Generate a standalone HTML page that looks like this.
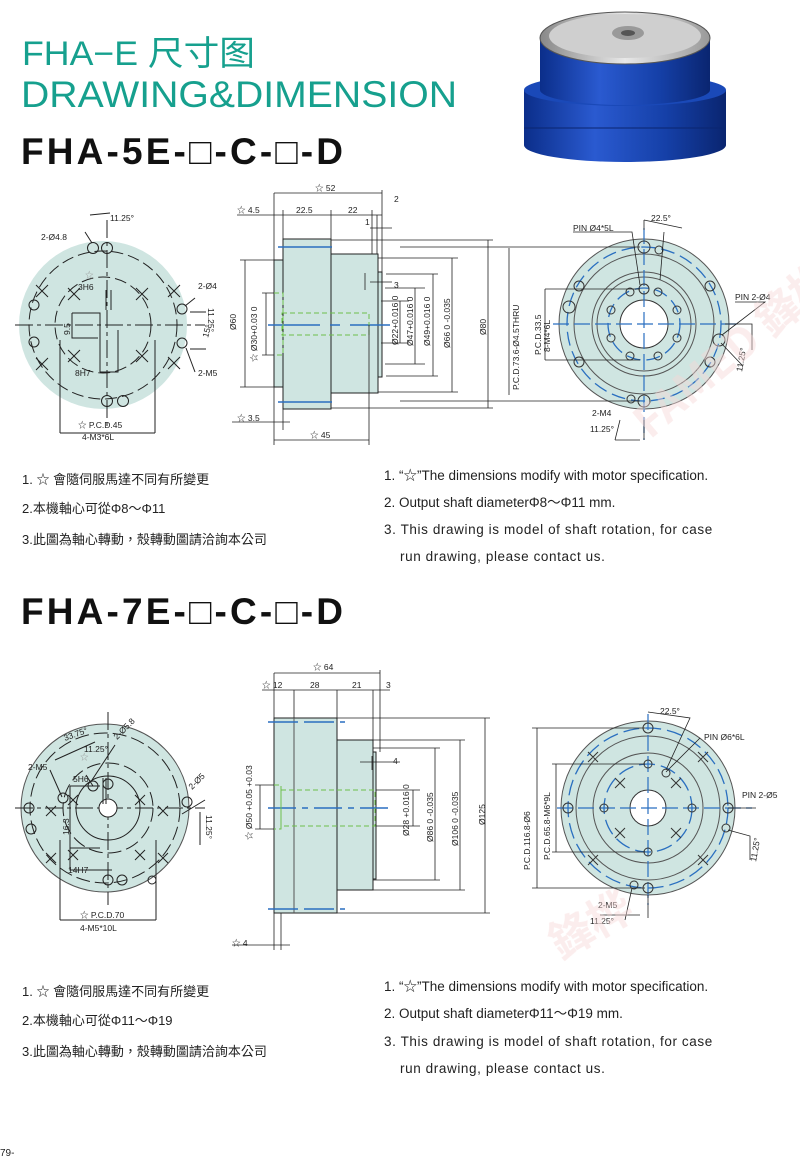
<!DOCTYPE html>
<html><head><meta charset="utf-8"><style>
html,body{margin:0;padding:0;background:#fff;}
svg{display:block;}
.t{font-family:"Liberation Sans","Noto Sans CJK TC",sans-serif;}
</style></head><body>
<svg width="800" height="1168" viewBox="0 0 800 1168" xmlns="http://www.w3.org/2000/svg" class="t">
<!-- titles -->
<text x="22" y="65" font-size="34" fill="#16a08e" textLength="233" lengthAdjust="spacingAndGlyphs" font-family="Liberation Sans,Noto Sans CJK SC,sans-serif">FHA−E 尺寸图</text>
<text x="21" y="107" font-size="37" fill="#16a08e" textLength="436" lengthAdjust="spacingAndGlyphs">DRAWING&amp;DIMENSION</text>
<text x="21" y="164" font-size="37" font-weight="bold" fill="#111" textLength="322" lengthAdjust="spacing">FHA-5E-□-C-□-D</text>
<text x="21" y="624" font-size="37" font-weight="bold" fill="#111" textLength="322" lengthAdjust="spacing">FHA-7E-□-C-□-D</text>

<!-- motor photo -->
<defs>
<linearGradient id="bl" x1="0" x2="1"><stop offset="0" stop-color="#0b2e8a"/><stop offset="0.35" stop-color="#2a5ad0"/><stop offset="0.7" stop-color="#1540a8"/><stop offset="1" stop-color="#0a2570"/></linearGradient>
<linearGradient id="gr" x1="0" x2="1"><stop offset="0" stop-color="#888"/><stop offset="0.5" stop-color="#e8e8e8"/><stop offset="1" stop-color="#999"/></linearGradient>
</defs>
<path d="M524 90 L524 145 A101 17 0 0 0 726 145 L726 90 Z" fill="url(#bl)"/>
<ellipse cx="625" cy="90" rx="101" ry="16" fill="#1a49b8"/>
<path d="M540 38 L540 90 A85 15 0 0 0 710 90 L710 38 Z" fill="url(#bl)"/>
<line x1="524" y1="128" x2="726" y2="128" stroke="#0a2570" stroke-width="1"/>
<ellipse cx="625" cy="38" rx="85" ry="26" fill="url(#gr)" stroke="#555"/>
<ellipse cx="625" cy="36" rx="76" ry="22" fill="#cfcfcf"/>
<ellipse cx="628" cy="33" rx="16" ry="7" fill="#999"/>
<ellipse cx="628" cy="33" rx="7" ry="3" fill="#555"/>

<g stroke="#222" stroke-width="1" fill="none">
<!-- ===== Section 1 left view ===== -->
<circle cx="103" cy="325" r="84" fill="#cfe5e1" stroke="none"/>
<circle cx="103" cy="325" r="74" stroke-dasharray="12 5"/>
<circle cx="103" cy="325" r="48" stroke-dasharray="12 5"/>
<line x1="15" y1="325" x2="205" y2="325" stroke-dasharray="18 4 4 4"/>
<line x1="107" y1="220" x2="107" y2="430" stroke-dasharray="18 4 4 4"/>
<circle cx="93" cy="248" r="5.5"/><circle cx="107" cy="248" r="5.5"/>
<circle cx="107" cy="401" r="5.5"/><circle cx="123" cy="401" r="5.5"/>
<circle cx="34" cy="305" r="5"/><circle cx="34" cy="342" r="5"/>
<circle cx="182" cy="309" r="5"/><circle cx="182" cy="343" r="5"/>
<path d="M36 285 l12 12 m0 -12 l-12 12 M36 358 l12 12 m0 -12 l-12 12 M168 285 l12 12 m0 -12 l-12 12 M168 357 l12 12 m0 -12 l-12 12 M68 288 l12 12 m0 -12 l-12 12 M136 288 l12 12 m0 -12 l-12 12 M68 350 l12 12 m0 -12 l-12 12 M136 350 l12 12 m0 -12 l-12 12"/>
<path d="M72 313 H100 V372 M72 313 V338 H98 M106 290 V310 M111 290 V310 M100 372 H118 V330"/>
<path d="M60 433 H155 M60 340 V433 M155 340 V433"/>
<path d="M90 215 L110 213 M85 232 L92 243 M195 298 L185 306 M195 372 L186 348 M190 312 L206 312 M190 349 L206 349"/>
</g>
<g font-size="8.5" fill="#222">
<text x="110" y="221">11.25°</text><text x="41" y="240">2-Ø4.8</text>
<text x="198" y="289">2-Ø4</text><text x="198" y="376">2-M5</text>
<text x="78" y="290">3H6</text><text x="75" y="376">8H7</text>
<text x="78" y="428">☆ P.C.D.45</text><text x="82" y="440">4-M3*6L</text>
<text transform="translate(208,308) rotate(90)">11.25°</text>
<text transform="translate(208,338) rotate(-75)">15°</text>
<text transform="translate(70,335) rotate(-90)">9.5</text>
<text x="85" y="278" fill="#999">☆</text>
</g>

<!-- ===== Section 1 side view ===== -->
<g stroke="#222" stroke-width="1" fill="#cfe5e1">
<rect x="274" y="260" width="10" height="127"/>
<rect x="283" y="239" width="48" height="170"/>
<rect x="331" y="254" width="47" height="139"/>
<rect x="378" y="272" width="4" height="105"/>
</g>
<g stroke="#2a6fc0" stroke-width="1.5"><line x1="278" y1="247" x2="332" y2="247"/><line x1="278" y1="402" x2="332" y2="402"/>
<line x1="268" y1="325" x2="320" y2="325"/><line x1="330" y1="325" x2="340" y2="325"/><line x1="350" y1="325" x2="390" y2="325"/></g>
<g stroke="#6cc04a" stroke-width="1" fill="none" stroke-dasharray="5 3">
<path d="M274 293 H283 V355 H274"/><rect x="282" y="313" width="87" height="22"/></g>
<g stroke="#222" stroke-width="0.8" fill="none">
<path d="M274 193 H382 M274 193 V260 M382 190 V272 M237 215 H382 M283 210 V239 M331 210 V239 M377 215 V254 M370 228 H392 M372 210 V254 M370 282 H392 M365 273 V290"/>
<path d="M240 260 H274 M245 260 V387 M240 387 H274 M262 293 H274 M266 293 V355 M262 355 H274"/>
<path d="M381 301 H409 M381 343 H409 M400 301 V343 M385 288 H425 M385 364 H425 M415 288 V364 M386 274 H438 M386 376 H438 M433 274 V376 M378 258 H458 M378 392 H458 M452 258 V392 M331 240 H493 M331 408 H493 M488 240 V408"/>
<path d="M232 422 H290 M283 409 V430 M274 387 V445 M274 440 H369 M369 325 V445"/>
<path d="M509 248 V395"/>
</g>
<g font-size="8.5" fill="#222">
<text x="315" y="191">☆ 52</text><text x="237" y="213">☆ 4.5</text><text x="296" y="213">22.5</text><text x="348" y="213">22</text>
<text x="394" y="202">2</text><text x="365" y="225">1</text><text x="394" y="288">3</text>
<text x="237" y="421">☆ 3.5</text><text x="310" y="438">☆ 45</text>
<text transform="translate(236,330) rotate(-90)">Ø60</text>
<text transform="translate(257,362) rotate(-90)">☆ Ø30+0.03 0</text>
<text transform="translate(398,345) rotate(-90)">Ø22+0.016 0</text>
<text transform="translate(413,346) rotate(-90)">Ø47+0.016 0</text>
<text transform="translate(430,346) rotate(-90)">Ø49+0.016 0</text>
<text transform="translate(450,348) rotate(-90)">Ø66 0 -0.035</text>
<text transform="translate(486,335) rotate(-90)">Ø80</text>
<text transform="translate(519,390) rotate(-90)">P.C.D.73.6-Ø4.5THRU</text>
<text transform="translate(541,355) rotate(-90)">P.C.D.33.5</text>
<text transform="translate(550,352) rotate(-90)">8-M4*6L</text>
</g>

<!-- ===== Section 1 right view ===== -->
<g fill="none">
<circle cx="644" cy="324" r="85" fill="#cfe5e1" stroke="#555"/>
<circle cx="644" cy="324" r="70" stroke="#555"/>
<circle cx="644" cy="324" r="52" stroke="#555"/>
<circle cx="644" cy="324" r="47" stroke="#555"/>
<circle cx="644" cy="324" r="24" fill="#fff" stroke="#333"/>
<circle cx="644" cy="324" r="77" stroke="#2a6fc0" stroke-width="1.3" stroke-dasharray="14 6"/>
<circle cx="644" cy="324" r="36" stroke="#2a6fc0" stroke-width="1.3" stroke-dasharray="14 6"/>
<g stroke="#2a6fc0" stroke-width="1.2"><line x1="553" y1="324" x2="740" y2="324" stroke-dasharray="16 5"/><line x1="644" y1="228" x2="644" y2="440" stroke-dasharray="16 5"/></g>
<g stroke="#333"><circle cx="644" cy="247" r="6"/><circle cx="644" cy="401" r="6"/><circle cx="569" cy="307" r="6"/><circle cx="719" cy="340" r="6"/><circle cx="644" cy="289" r="5"/>
<circle cx="659" cy="250" r="4"/><circle cx="631" cy="399" r="4"/><circle cx="579" cy="286" r="5"/><circle cx="579" cy="362" r="5"/><circle cx="710" cy="286" r="5"/><circle cx="710" cy="362" r="5"/>
<circle cx="630" cy="292" r="4"/><circle cx="658" cy="292" r="4"/><circle cx="611" cy="310" r="4"/><circle cx="677" cy="310" r="4"/><circle cx="611" cy="338" r="4"/><circle cx="677" cy="338" r="4"/><circle cx="630" cy="356" r="4"/><circle cx="658" cy="356" r="4"/></g>
<path d="M400 247 H640 M400 401 H640 M545 289 H640 M545 360 H640 M545 289 V360 M644 220 V230 M644 420 V440 M620 420 L615 440 M615 440 H640 M664 232 L660 280 M644 220 L682 228 M573 232 H632 L640 285 M735 302 H765 L722 335 M725 324 H752 V350 M721 343 L742 365" stroke="#222" stroke-width="0.8"/>
</g>
<g font-size="8.5" fill="#222">
<text x="651" y="221">22.5°</text><text x="573" y="231">PIN Ø4*5L</text><text x="735" y="300">PIN 2-Ø4</text>
<text x="592" y="416">2-M4</text><text x="590" y="432">11.25°</text>
<text transform="translate(742,372) rotate(-80)">11.25°</text>
</g>

<!-- notes 1 -->
<g font-size="13" fill="#222" font-family="Liberation Sans,Noto Sans CJK TC,sans-serif">
<text x="22" y="484">1. ☆ 會隨伺服馬達不同有所變更</text>
<text x="22" y="513">2.本機軸心可從Φ8～Φ11</text>
<text x="22" y="544">3.此圖為軸心轉動，殼轉動圖請洽詢本公司</text>
<text x="384" y="480" font-size="13.5">1. “☆”The dimensions modify with motor specification.</text>
<text x="384" y="507" font-size="13.5">2. Output shaft diameterΦ8～Φ11 mm.</text>
<text x="384" y="534" font-size="13.5" letter-spacing="0.6">3. This drawing is model of shaft rotation, for case</text>
<text x="400" y="561" font-size="13.5" letter-spacing="0.6">run drawing, please contact us.</text>
</g>

<!-- ===== Section 2 left view ===== -->
<g stroke="#222" stroke-width="1" fill="none">
<circle cx="105" cy="808" r="84" fill="#cfe5e1" stroke="#555"/>
<circle cx="105" cy="808" r="75" stroke-dasharray="14 5"/>
<circle cx="108" cy="808" r="45" stroke-dasharray="14 5"/>
<circle cx="108" cy="808" r="32"/>
<line x1="15" y1="808" x2="205" y2="808" stroke-dasharray="18 4 4 4"/>
<line x1="108" y1="712" x2="108" y2="905" stroke-dasharray="18 4 4 4"/>
<circle cx="108" cy="808" r="9" fill="#fff"/>
<circle cx="93" cy="786" r="5"/><circle cx="108" cy="784" r="5"/><circle cx="63" cy="798" r="5"/><circle cx="187" cy="802" r="5"/><circle cx="29" cy="808" r="5"/><circle cx="31" cy="829" r="5"/><circle cx="108" cy="880" r="5"/><circle cx="122" cy="880" r="5"/><circle cx="152" cy="880" r="4"/>
<path d="M46 806 l10 10 m0 -10 l-10 10 M158 806 l10 10 m0 -10 l-10 10 M46 853 l10 10 m0 -10 l-10 10 M158 853 l10 10 m0 -10 l-10 10 M68 795 l10 10 m0 -10 l-10 10 M135 795 l10 10 m0 -10 l-10 10 M68 850 l10 10 m0 -10 l-10 10 M135 850 l10 10 m0 -10 l-10 10"/>
<path d="M70 786 H100 M70 786 V848 H100 M103 778 V804 M106 778 V804 M70 848 V870 H112"/>
<path d="M60 920 H156 M60 840 V920 M156 840 V920"/>
<path d="M50 770 L62 797 M86 775 L93 786 M115 745 L92 780 M205 800 L182 814 M200 812 V845"/>
<path d="M55 760 L95 742"/>
</g>
<g font-size="8.5" fill="#222">
<text x="28" y="770">2-M5</text>
<text transform="translate(65,741) rotate(-20)">33.75°</text>
<text x="84" y="752">11.25°</text>
<text transform="translate(117,740) rotate(-45)">2-Ø5.8</text>
<text transform="translate(192,790) rotate(-45)">2-Ø5</text>
<text transform="translate(206,815) rotate(90)">11.25°</text>
<text x="73" y="782">5H6</text><text x="68" y="873">14H7</text>
<text transform="translate(69,835) rotate(-90)">16.3</text>
<text x="80" y="918">☆ P.C.D.70</text><text x="80" y="931">4-M5*10L</text>
<text x="80" y="760" fill="#999">☆</text>
</g>

<!-- ===== Section 2 side view ===== -->
<g stroke="#222" stroke-width="1" fill="#cfe5e1">
<rect x="274" y="718" width="63" height="195"/>
<rect x="337" y="740" width="36" height="150"/>
<rect x="373" y="752" width="3" height="127"/>
</g>
<line x1="294" y1="718" x2="294" y2="913" stroke="#555"/>
<g stroke="#2a6fc0" stroke-width="1.5"><line x1="268" y1="722" x2="345" y2="722" stroke-dasharray="30 6"/><line x1="268" y1="909" x2="345" y2="909" stroke-dasharray="30 6"/>
<line x1="268" y1="808" x2="390" y2="808" stroke-dasharray="28 6 6 6"/></g>
<g stroke="#6cc04a" stroke-width="1" fill="none" stroke-dasharray="5 3">
<path d="M274 785 H281 V829 H274"/><rect x="281" y="790" width="94" height="36"/></g>
<g stroke="#222" stroke-width="0.8" fill="none">
<path d="M274 673 H380 M274 673 V718 M380 670 V752 M262 690 H390 M294 690 V718 M337 690 V740 M373 690 V752"/>
<path d="M255 785 H274 M260 785 V829 M255 829 H274"/>
<path d="M376 790 H420 M376 826 H420 M413 790 V826 M373 748 H440 M373 880 H440 M435 748 V880 M337 740 H465 M337 890 H465 M460 740 V890 M337 718 H490 M337 913 H490 M485 718 V913 M360 762 H400 M372 756 V770"/>
<path d="M232 945 H290 M274 913 V950 M281 913 V950"/>
</g>
<g font-size="8.5" fill="#222">
<text x="313" y="670">☆ 64</text><text x="262" y="688">☆ 12</text><text x="310" y="688">28</text><text x="352" y="688">21</text><text x="386" y="688">3</text>
<text x="393" y="764">4</text><text x="232" y="946">☆ 4</text>
<text transform="translate(252,840) rotate(-90)">☆ Ø50 +0.05 +0.03</text>
<text transform="translate(409,836) rotate(-90)">Ø28 +0.016 0</text>
<text transform="translate(433,842) rotate(-90)">Ø86 0 -0.035</text>
<text transform="translate(458,846) rotate(-90)">Ø106 0 -0.035</text>
<text transform="translate(485,825) rotate(-90)">Ø125</text>
<text transform="translate(530,870) rotate(-90)">P.C.D.116.8-Ø6</text>
<text transform="translate(550,860) rotate(-90)">P.C.D.65.8-M6*9L</text>
</g>

<!-- ===== Section 2 right view ===== -->
<g fill="none">
<circle cx="648" cy="808" r="87" fill="#cfe5e1" stroke="#555"/>
<circle cx="648" cy="808" r="72" stroke="#555"/>
<circle cx="648" cy="808" r="55" stroke="#555"/>
<circle cx="648" cy="808" r="18" fill="#fff" stroke="#333"/>
<circle cx="648" cy="808" r="80" stroke="#2a6fc0" stroke-width="1.3" stroke-dasharray="16 6"/>
<circle cx="648" cy="808" r="44" stroke="#2a6fc0" stroke-width="1.3" stroke-dasharray="16 6"/>
<g stroke="#2a6fc0" stroke-width="1.2"><line x1="557" y1="808" x2="752" y2="808" stroke-dasharray="16 5"/><line x1="648" y1="714" x2="648" y2="905" stroke-dasharray="16 5"/></g>
<g stroke="#333"><circle cx="648" cy="728" r="5"/><circle cx="648" cy="888" r="5"/><circle cx="568" cy="808" r="5"/><circle cx="728" cy="808" r="5"/><circle cx="648" cy="764" r="4"/><circle cx="648" cy="852" r="4"/><circle cx="604" cy="808" r="4"/><circle cx="692" cy="808" r="4"/><circle cx="666" cy="773" r="4"/><circle cx="726" cy="828" r="4"/><circle cx="634" cy="885" r="4"/>
<path d="M588 752 l10 10 m0 -10 l-10 10 M698 752 l10 10 m0 -10 l-10 10 M588 855 l10 10 m0 -10 l-10 10 M698 855 l10 10 m0 -10 l-10 10 M615 778 l10 10 m0 -10 l-10 10 M671 778 l10 10 m0 -10 l-10 10 M615 828 l10 10 m0 -10 l-10 10 M671 828 l10 10 m0 -10 l-10 10"/></g>
<path d="M532 728 H645 M532 888 H645 M537 728 V888 M552 764 H645 M552 852 H645 M556 764 V852 M648 712 L690 718 L666 770 M700 738 L666 772 M728 808 H756 M728 830 L750 836 V860 M632 888 L625 920 M600 915 H640 M648 895 V918" stroke="#222" stroke-width="0.8"/>
</g>
<g font-size="8.5" fill="#222">
<text x="660" y="714">22.5°</text><text x="704" y="740">PIN Ø6*6L</text><text x="742" y="798">PIN 2-Ø5</text>
<text x="598" y="908">2-M5</text><text x="590" y="924">11.25°</text>
<text transform="translate(756,862) rotate(-80)">11.25°</text>
</g>

<!-- watermark -->
<g fill="#f6d6d6" opacity="0.45" font-size="44" font-weight="bold" font-family="Noto Sans CJK TC,sans-serif">
<text transform="translate(650,440) rotate(-40)">FAMED 鋒桦</text>
<text transform="translate(560,960) rotate(-30)">鋒桦</text>
</g>

<!-- notes 2 -->
<g font-size="13" fill="#222" font-family="Liberation Sans,Noto Sans CJK TC,sans-serif">
<text x="22" y="996">1. ☆ 會隨伺服馬達不同有所變更</text>
<text x="22" y="1025">2.本機軸心可從Φ11～Φ19</text>
<text x="22" y="1056">3.此圖為軸心轉動，殼轉動圖請洽詢本公司</text>
<text x="384" y="991" font-size="13.5">1. “☆”The dimensions modify with motor specification.</text>
<text x="384" y="1018" font-size="13.5">2. Output shaft diameterΦ11～Φ19 mm.</text>
<text x="384" y="1046" font-size="13.5" letter-spacing="0.6">3. This drawing is model of shaft rotation, for case</text>
<text x="400" y="1073" font-size="13.5" letter-spacing="0.6">run drawing, please contact us.</text>
<text x="0" y="1156" font-size="10">79-</text>
</g>
</svg>
</body></html>
